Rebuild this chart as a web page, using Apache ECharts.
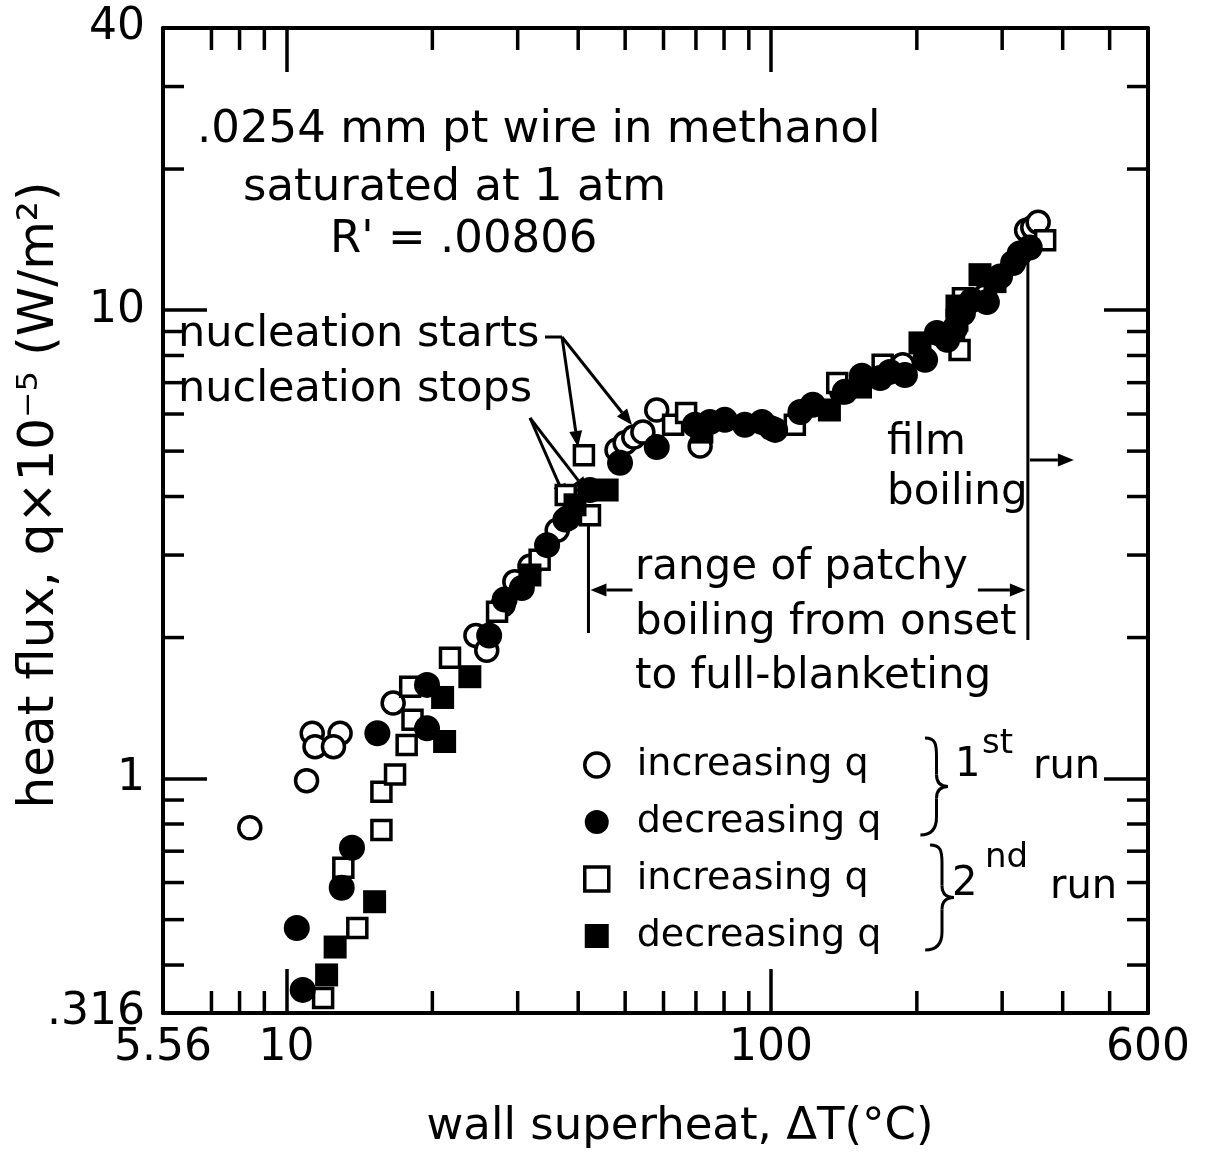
<!DOCTYPE html>
<html>
<head>
<meta charset="utf-8">
<title>Boiling curve - .0254 mm Pt wire in methanol</title>
<script src="https://cdn.jsdelivr.net/npm/echarts@6/dist/echarts.min.js"></script>
<style>
  html, body { margin: 0; padding: 0; background: #fff; }
  #chart { width: 1215px; height: 1153px; }
</style>
</head>
<body>
<div id="chart"></div>
<script>
// wall superheat dT (C) and heat flux q x 1e-5 (W/m2)

// 1st run, increasing q (open circles)
const run1IncX = [8.40, 11.0, 11.3, 12.9, 11.45, 12.5, 16.6, 24.6, 25.9, 28.0, 29.6, 31.8, 36.2, 37.6,
  48.1, 50.0, 52.1, 54.4, 58.1, 71.4, 100, 140, 187, 237, 276, 337, 347, 356];
const run1IncY = [0.785, 0.99, 1.25, 1.25, 1.17, 1.17, 1.45, 2.02, 1.88, 2.35, 2.63, 2.84, 3.39, 3.57,
  5.03, 5.21, 5.36, 5.49, 6.12, 5.13, 5.60, 6.69, 7.64, 8.77, 10.7, 14.8, 15.0, 15.4];

// 1st run, decreasing q (filled circles)
const run1DecX = [10.5, 10.8, 13.0, 13.65, 15.4, 19.5, 19.5, 26.2, 28.2, 30.6, 34.5, 38.1, 42.3, 48.8,
  58.1, 69.7, 74.8, 80.3, 88.3, 95.8, 102, 115, 122, 142, 154, 168, 176, 189, 208, 220, 231, 240, 249,
  260, 279, 297, 316, 326, 342];
const run1DecY = [0.480, 0.354, 0.585, 0.712, 1.25, 1.28, 1.585, 2.02, 2.41, 2.55, 3.15, 3.60, 4.13, 4.72,
  5.10, 5.69, 5.77, 5.83, 5.69, 5.77, 5.55, 6.06, 6.28, 6.69, 7.24, 7.16, 7.38, 7.27, 7.83, 8.94, 8.64, 9.16, 9.86,
  10.5, 10.4, 11.8, 12.6, 13.2, 13.6];

// 2nd run, increasing q (open squares)
const run2IncX = [11.9, 14.0, 13.1, 15.7, 15.7, 16.75, 17.7, 18.2, 18.0, 21.75, 27.2, 33.3, 37.7, 41.1,
  42.3, 62.8, 66.8, 112, 137, 170, 245, 249, 368];
const run2IncY = [0.340, 0.480, 0.645, 0.777, 0.937, 1.02, 1.18, 1.335, 1.57, 1.81, 2.27, 2.93, 4.03, 4.9,
  3.65, 5.69, 6.03, 5.69, 6.99, 7.64, 8.22, 10.6, 14.1];

// 2nd run, decreasing q (filled squares)
const run2DecX = [12.1, 12.6, 15.2, 21.2, 21.0, 23.9, 31.8, 39.4, 45.9, 72.0, 132, 153, 203, 242, 242, 270, 290];
const run2DecY = [0.381, 0.437, 0.546, 1.20, 1.49, 1.65, 2.72, 3.84, 4.13, 5.49, 6.12, 6.85, 8.51, 10.2, 9.52, 11.9, 11.5];

// axis ranges and minor ticks
const xMin = 5.56, xMax = 600;
const yMin = 0.316, yMax = 40;
const xMinorTicks = [7, 8, 9, 20, 30, 40, 50, 60, 70, 80, 90, 200, 300, 400, 500];
const yMinorTicks = [0.4, 0.5, 0.6, 0.7, 0.8, 0.9, 2, 3, 4, 5, 6, 7, 8, 9, 20, 30];

// patchy boiling range, onset to full blanketing (dT)
const patchyStart = 42;
const patchyEnd = 339;

const FONT = 'DejaVu Sans';
const zip = (xs, ys) => xs.map((x, i) => [x, ys[i]]);

const chart = echarts.init(document.getElementById('chart'));

const axisCommon = {
  type: 'log',
  logBase: 10,
  axisLine: { show: true, lineStyle: { color: '#000', width: 4 } },
  axisTick: { show: true, inside: true, length: 44, lineStyle: { color: '#000', width: 3.5 } },
  splitLine: { show: false },
};

const tickLabel = v => String(+(+v).toPrecision(3)).replace(/^0\./, '.');

const option = {
  animation: false,
  backgroundColor: '#fff',
  textStyle: { fontFamily: FONT },
  grid: { left: 163, top: 28, width: 985, height: 985 },
  xAxis: [
    Object.assign({}, axisCommon, {
      position: 'bottom', min: xMin, max: xMax,
      axisLabel: { show: true, margin: 14, fontSize: 44, color: '#000', fontFamily: FONT,
        showMinLabel: true, showMaxLabel: true, formatter: tickLabel }
    }),
    Object.assign({}, axisCommon, {
      position: 'top', min: xMin, max: xMax, axisLabel: { show: false }
    })
  ],
  yAxis: [
    Object.assign({}, axisCommon, {
      position: 'left', min: yMin, max: yMax,
      axisLabel: { show: true, margin: 18, fontSize: 44, color: '#000', fontFamily: FONT,
        showMinLabel: true, showMaxLabel: true, formatter: tickLabel }
    }),
    Object.assign({}, axisCommon, {
      position: 'right', min: yMin, max: yMax, axisLabel: { show: false }
    })
  ],
  legend: {
    orient: 'vertical',
    left: 578,
    top: 741,
    itemWidth: 24,
    itemHeight: 24,
    itemGap: 19,
    selectedMode: false,
    textStyle: { fontSize: 38, lineHeight: 38, color: '#000', fontFamily: FONT, padding: [0, 0, 0, 23] },
    formatter: name => name.split(' (')[0],
    data: [
      { name: 'increasing q (1st run)', itemStyle: { borderWidth: 3.5 } },
      { name: 'decreasing q (1st run)' },
      { name: 'increasing q (2nd run)', itemStyle: { borderWidth: 3.5 } },
      { name: 'decreasing q (2nd run)' }
    ]
  },
  series: [
    {
      name: 'increasing q (1st run)', type: 'scatter', symbol: 'circle', symbolSize: 22,
      itemStyle: { color: '#fff', borderColor: '#000', borderWidth: 3.5, opacity: 1 },
      data: zip(run1IncX, run1IncY)
    },
    {
      name: 'increasing q (2nd run)', type: 'scatter', symbol: 'rect', symbolSize: 19,
      itemStyle: { color: '#fff', borderColor: '#000', borderWidth: 3.5, opacity: 1 },
      data: zip(run2IncX, run2IncY)
    },
    {
      name: 'decreasing q (1st run)', type: 'scatter', symbol: 'circle', symbolSize: 26,
      itemStyle: { color: '#000', opacity: 1 },
      data: zip(run1DecX, run1DecY)
    },
    {
      name: 'decreasing q (2nd run)', type: 'scatter', symbol: 'rect', symbolSize: 23,
      itemStyle: { color: '#000', opacity: 1 },
      data: zip(run2DecX, run2DecY)
    }
  ]
};

chart.setOption(option);

// ---- annotations (graphic) ----
function txt(str, x, y, size, align) {
  return {
    type: 'text', x: x, y: y, silent: true,
    style: { text: str, fill: '#000', font: size + 'px "' + FONT + '"', align: align || 'left', verticalAlign: 'middle' }
  };
}
function seg(x1, y1, x2, y2, w) {
  return { type: 'line', silent: true, shape: { x1, y1, x2, y2 }, style: { stroke: '#000', lineWidth: w || 3 } };
}
function bez(x1, y1, cpx1, cpy1, cpx2, cpy2, x2, y2) {
  return {
    type: 'bezierCurve', silent: true,
    shape: { x1, y1, cpx1, cpy1, cpx2, cpy2, x2, y2 },
    style: { stroke: '#000', lineWidth: 3, fill: null }
  };
}
function arrow(x1, y1, x2, y2) {
  const ang = Math.atan2(y2 - y1, x2 - x1);
  const L = 16, W = 6.5;
  const bx = x2 - L * Math.cos(ang), by = y2 - L * Math.sin(ang);
  const nx = -Math.sin(ang) * W, ny = Math.cos(ang) * W;
  return [
    seg(x1, y1, bx, by, 3),
    { type: 'polygon', silent: true, shape: { points: [[x2, y2], [bx + nx, by + ny], [bx - nx, by - ny]] }, style: { fill: '#000' } }
  ];
}
// curly brace opening to the left, tip pointing right
function brace(x, y1, y2, d) {
  const m = (y1 + y2) / 2, h = x + d * 0.5;
  return [
    bez(x, y1, x + d * 0.45, y1, h, y1 + 6, h, y1 + 18),
    seg(h, y1 + 18, h, m - 12, 3),
    bez(h, m - 12, h, m - 3, x + d * 0.7, m, x + d, m),
    bez(x + d, m, x + d * 0.7, m, h, m + 3, h, m + 12),
    seg(h, m + 12, h, y2 - 18, 3),
    bez(h, y2 - 18, h, y2 - 6, x + d * 0.25, y2, x - d * 0.2, y2)
  ];
}

const px = v => chart.convertToPixel({ xAxisIndex: 0 }, v);
const py = v => chart.convertToPixel({ yAxisIndex: 0 }, v);
const L = px(xMin), R = px(xMax), T = py(yMax), B = py(yMin);

let els = [];

// minor ticks on all four sides
xMinorTicks.forEach(v => {
  const x = px(v);
  els.push(seg(x, B, x, B - 22, 3.5), seg(x, T, x, T + 22, 3.5));
});
yMinorTicks.forEach(v => {
  const y = py(v);
  els.push(seg(L, y, L + 21, y, 3.5), seg(R, y, R - 21, y, 3.5));
});

// axis titles
els.push({
  type: 'text', x: 40, y: 495, rotation: Math.PI / 2, silent: true,
  style: { text: 'heat flux, q\u00d710\u207b\u2075 (W/m\u00b2)', fill: '#000', font: '50px "' + FONT + '"', align: 'center', verticalAlign: 'middle' }
});
els.push(txt('wall superheat, \u0394T(\u00b0C)', 680, 1127, 45, 'center'));

// experiment note
els.push(txt('.0254 mm pt wire in methanol', 197, 130, 45));
els.push(txt('saturated at 1 atm', 243, 188, 45));
els.push(txt("R' = .00806", 330, 240, 45));

// nucleation markers
els.push(txt('nucleation starts', 178, 335, 43));
els.push(txt('nucleation stops', 178, 390, 43));
els.push(seg(545, 337, 562, 337, 3));
els = els.concat(arrow(562, 337, 578, 447), arrow(562, 337, 632, 425));
els = els.concat(arrow(530, 418, 566, 500), arrow(530, 418, 588, 493));

// patchy boiling range
const xs = px(patchyStart), xe = px(patchyEnd);
els.push(seg(xs, 505, xs, 633, 3), seg(xe, 258, xe, 640, 3));
els = els.concat(arrow(xs + 44, 590, xs + 2, 590), arrow(xe - 50, 590, xe - 2, 590));
els.push(txt('range of patchy', 635, 568, 42));
els.push(txt('boiling from onset', 635, 623, 42));
els.push(txt('to full-blanketing', 635, 677, 42));

// film boiling
els.push(txt('film', 887, 443, 42));
els.push(txt('boiling', 887, 493, 42));
els = els.concat(arrow(xe + 2, 460, xe + 46, 460));

// run braces
els = els.concat(brace(925, 738, 835, 23), brace(930, 845, 950, 24));
els.push(txt('1', 955, 766, 40), txt('st', 982, 744, 34), txt('run', 1033, 768, 40));
els.push(txt('2', 952, 885, 40), txt('nd', 985, 858, 34), txt('run', 1050, 888, 40));

chart.setOption({ graphic: { elements: els } });

window.addEventListener('resize', () => {
  chart.resize();
});
</script>
</body>
</html>
